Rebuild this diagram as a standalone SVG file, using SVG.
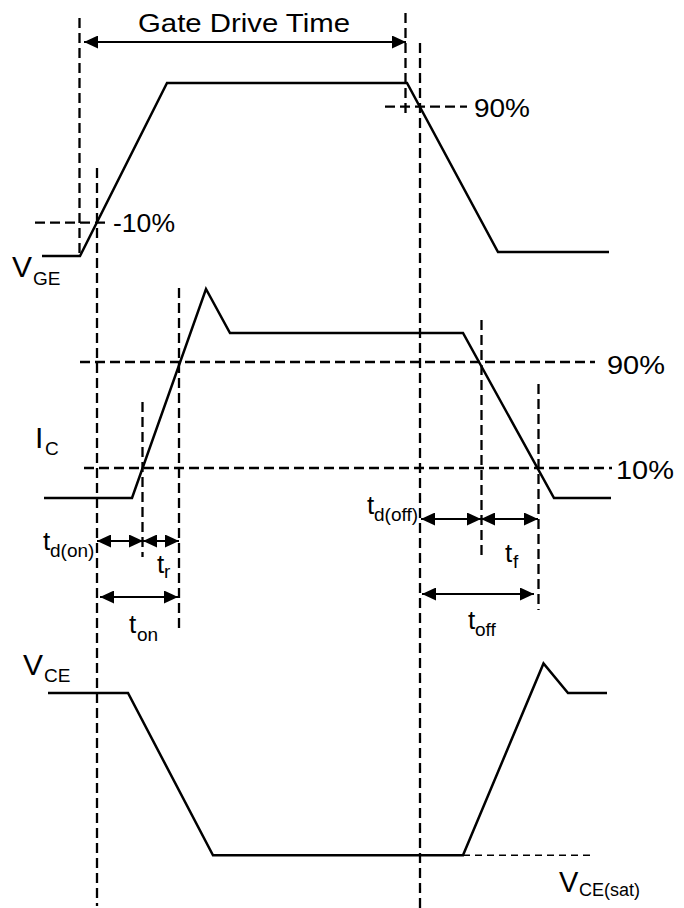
<svg xmlns="http://www.w3.org/2000/svg" width="684" height="908" viewBox="0 0 684 908">
<style>
.wave{fill:none;stroke:#000;stroke-width:2.5;stroke-linejoin:miter}
.guide{fill:none;stroke:#000;stroke-width:2.3;stroke-dasharray:10 5}
.sat{fill:none;stroke:#000;stroke-width:1.6;stroke-dasharray:7 5}
.dim{fill:none;stroke:#000;stroke-width:2;marker-start:url(#ah);marker-end:url(#ah)}
text{font-family:"Liberation Sans",Arial,sans-serif;fill:#000}
.big{font-size:30px}
.mid{font-size:26px}
.sub{font-size:19px}
</style>
<defs>
<marker id="ah" markerUnits="userSpaceOnUse" markerWidth="14" markerHeight="13" refX="14" refY="6.5" orient="auto-start-reverse">
<path d="M0,0 L14,6.5 L0,13 z" fill="#000"/>
</marker>
</defs>
<rect width="684" height="908" fill="#fff"/>

<g id="connectors">
<line class="guide" x1="79.5" y1="18" x2="79.5" y2="256"/>
<line class="guide" x1="97" y1="168" x2="97" y2="906"/>
<line class="guide" x1="142.5" y1="402" x2="142.5" y2="557"/>
<line class="guide" x1="179" y1="288" x2="179" y2="629"/>
<line class="guide" x1="405.5" y1="13" x2="405.5" y2="117"/>
<line class="guide" x1="420" y1="43" x2="420" y2="908"/>
<line class="guide" x1="481.5" y1="320" x2="481.5" y2="556"/>
<line class="guide" x1="538.5" y1="384" x2="538.5" y2="610"/>
<line class="guide" x1="35" y1="222.7" x2="108" y2="222.7"/>
<line class="guide" x1="385" y1="106.7" x2="467" y2="106.7"/>
<line class="guide" x1="80" y1="362" x2="595" y2="362"/>
<line class="guide" x1="84" y1="468" x2="612" y2="468"/>
<line class="sat" x1="463" y1="855.3" x2="592" y2="855.3"/>
<line class="dim" x1="84" y1="42" x2="406" y2="42"/>
<line class="dim" x1="97" y1="541" x2="143" y2="541"/>
<line class="dim" x1="143" y1="541" x2="179" y2="541"/>
<line class="dim" x1="100" y1="597" x2="178" y2="597"/>
<line class="dim" x1="421" y1="519" x2="481" y2="519"/>
<line class="dim" x1="481" y1="519" x2="538" y2="519"/>
<line class="dim" x1="422" y1="594" x2="534" y2="594"/>
</g>

<g id="vge">
<polyline class="wave" points="42,256 80,256 167,83 407,83 498,252 609,252"/>
<text class="big" x="12" y="277">V<tspan class="sub" x="33" y="285">GE</tspan></text>
</g>

<g id="ic">
<polyline class="wave" points="44,498 132,498 206,289 230,333 463,333 554,498 611,498"/>
<text class="big" x="35" y="448">I<tspan class="sub" x="45" y="455">C</tspan></text>
</g>

<g id="vce">
<polyline class="wave" points="48,693 128,693 213,855.3 463,855.3 543.5,663.5 568,693 607,693"/>
<text class="big" x="23" y="675">V<tspan class="sub" x="44" y="682">CE</tspan></text>
<text style="font-size:29px" x="559" y="892">V<tspan style="font-size:18px" x="579" y="896">CE(sat)</tspan></text>
</g>

<g id="labels">
<text x="138" y="32" style="font-size:25px" textLength="212" lengthAdjust="spacingAndGlyphs">Gate Drive Time</text>
<text class="mid" x="113" y="232" textLength="62" lengthAdjust="spacingAndGlyphs">-10%</text>
<text class="mid" x="474" y="117" textLength="56" lengthAdjust="spacingAndGlyphs">90%</text>
<text class="mid" x="607" y="374" textLength="58" lengthAdjust="spacingAndGlyphs">90%</text>
<text class="mid" x="616" y="479" textLength="58" lengthAdjust="spacingAndGlyphs">10%</text>
<text class="mid" x="43" y="550">t<tspan class="sub" x="50" y="557">d(on)</tspan></text>
<text class="mid" x="157" y="573">t<tspan class="sub" x="164" y="578">r</tspan></text>
<text class="mid" x="129" y="633">t<tspan class="sub" x="137" y="641">on</tspan></text>
<text class="mid" x="367" y="514">t<tspan class="sub" x="374" y="521">d(off)</tspan></text>
<text class="mid" x="505" y="562">t<tspan class="sub" x="513" y="568">f</tspan></text>
<text class="mid" x="468" y="629">t<tspan class="sub" x="475" y="636">off</tspan></text>
</g>
</svg>
